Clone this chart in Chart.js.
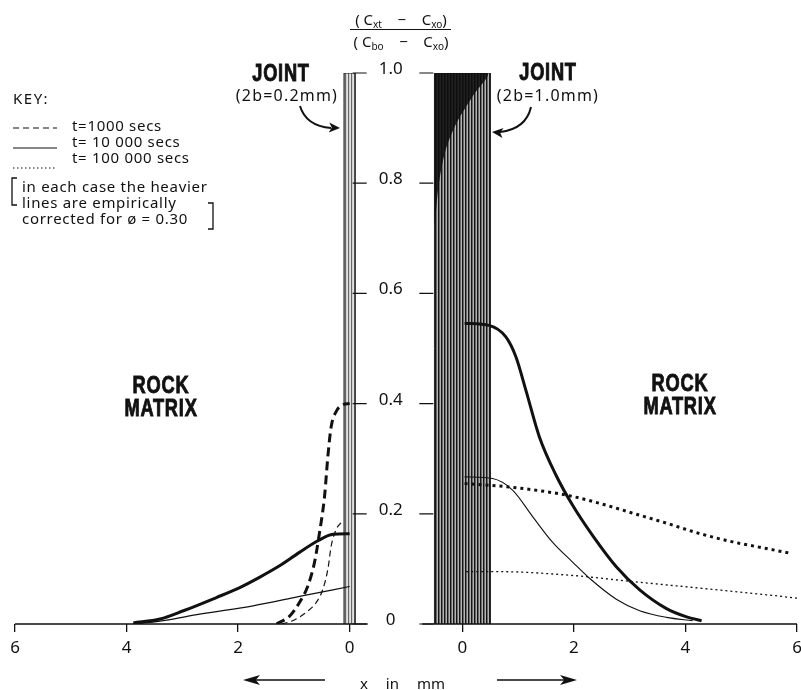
<!DOCTYPE html>
<html>
<head>
<meta charset="utf-8">
<title>Joint and rock matrix concentration profiles</title>
<script src="https://cdn.jsdelivr.net/npm/chart.js@4/dist/chart.umd.min.js"></script>
<style>
  body { margin: 0; background: #fff; }
  #wrap { position: relative; width: 801px; height: 690px; font-family: "Noto Sans", sans-serif; color: #111; }
  canvas { position: absolute; left: 0; top: 0; }
  .c { position: absolute; white-space: nowrap; transform: translate(-50%, -50%); line-height: 1; }
  .l { position: absolute; white-space: nowrap; transform: translateY(-50%); line-height: 1; }
  .key { font-size: 15px; letter-spacing: 0.7px; }
  .big { font-family: "Liberation Sans", sans-serif; font-weight: bold; font-size: 24px; letter-spacing: 1px;
         -webkit-text-stroke: 0.9px #111; transform: translate(-50%, -50%) scaleX(0.76); }
  .sub { font-size: 10px; position: relative; top: 3px; }
</style>
</head>
<body>
<div id="wrap">
  <canvas id="chart" width="801" height="690"></canvas>

  <div class="c" style="left:401px;top:19px;font-size:15px">(&nbsp;C<span class="sub">xt</span>&nbsp;&nbsp;&nbsp;&nbsp;−&nbsp;&nbsp;&nbsp;&nbsp;C<span class="sub">xo</span>)</div>
  <div class="c" style="left:401px;top:41px;font-size:15px">(&nbsp;C<span class="sub">bo</span>&nbsp;&nbsp;&nbsp;&nbsp;−&nbsp;&nbsp;&nbsp;&nbsp;C<span class="sub">xo</span>)</div>

  <div class="l key" style="left:13px;top:98px;letter-spacing:1.5px">KEY:</div>
  <div class="l key" style="left:72px;top:125px">t=1000 secs</div>
  <div class="l key" style="left:72px;top:141px">t= 10 000 secs</div>
  <div class="l key" style="left:72px;top:157px">t= 100 000 secs</div>
  <div class="l key" style="left:22px;top:186px">in each case the heavier</div>
  <div class="l key" style="left:22px;top:202px">lines are empirically</div>
  <div class="l key" style="left:22px;top:218px">corrected for ø = 0.30</div>

  <div class="c big" style="left:281px;top:73px">JOINT</div>
  <div class="c" style="left:287px;top:95px;font-size:16px;letter-spacing:1.2px">(2b=0.2mm)</div>
  <div class="c big" style="left:548px;top:72px">JOINT</div>
  <div class="c" style="left:548px;top:95px;font-size:16px;letter-spacing:1.2px">(2b=1.0mm)</div>

  <div class="c big" style="left:161px;top:385px">ROCK</div>
  <div class="c big" style="left:161px;top:408px">MATRIX</div>
  <div class="c big" style="left:680px;top:383px">ROCK</div>
  <div class="c big" style="left:680px;top:406px">MATRIX</div>

  <div class="l" style="left:360px;top:683px;font-size:15px;word-spacing:14px">x in mm</div>
</div>

<script>
// distance between the two zero marks (joint 0.2mm side and joint 1.0mm side), in axis units
const GAP = 2.02;

// x axis ticks for each half
const leftTicks = [6, 4, 2, 0];
const rightTicks = [0, 2, 4, 6];
const yTicks = [0, 0.2, 0.4, 0.6, 0.8, 1.0];
const yTickLabels = ["0", "0.2", "0.4", "0.6", "0.8", "1.0"];

// left half : joint 2b = 0.2 mm
const leftDashHeavyX = [0, 0.12, 0.24, 0.33, 0.39, 0.45, 0.54, 0.63, 0.75, 0.9, 1.07, 1.31];
const leftDashHeavyY = [0.40, 0.398, 0.386, 0.359, 0.305, 0.232, 0.166, 0.112, 0.069, 0.039, 0.015, 0];
const leftDashThinX = [0.1, 0.17, 0.24, 0.33, 0.39, 0.48, 0.6, 0.78, 1.02, 1.22];
const leftDashThinY = [0.185, 0.182, 0.172, 0.142, 0.10, 0.063, 0.039, 0.021, 0.006, 0];
const leftSolidHeavyX = [0, 0.3, 0.57, 0.9, 1.25, 1.61, 1.97, 2.39, 2.98, 3.4, 3.88];
const leftSolidHeavyY = [0.164, 0.163, 0.151, 0.13, 0.106, 0.085, 0.066, 0.048, 0.024, 0.009, 0.002];
const leftSolidThinX = [0, 0.9, 1.73, 2.69, 3.28, 3.82];
const leftSolidThinY = [0.068, 0.05, 0.033, 0.018, 0.007, 0];

// right half : joint 2b = 1.0 mm
const rightSolidHeavyX = [0.04, 0.48, 0.78, 0.96, 1.14, 1.38, 1.68, 1.98, 2.34, 2.76, 3.18, 3.66, 4.02, 4.29];
const rightSolidHeavyY = [0.546, 0.542, 0.521, 0.485, 0.424, 0.34, 0.27, 0.215, 0.16, 0.104, 0.062, 0.028, 0.013, 0.006];
const rightSolidThinX = [0.04, 0.54, 0.9, 1.26, 1.62, 1.98, 2.28, 2.76, 3.18, 3.66, 4.13];
const rightSolidThinY = [0.267, 0.264, 0.243, 0.195, 0.148, 0.112, 0.083, 0.045, 0.024, 0.012, 0.006];
const rightDotHeavyX = [0.04, 0.9, 1.86, 2.46, 3.06, 3.66, 4.26, 4.85, 5.45, 5.9];
const rightDotHeavyY = [0.255, 0.248, 0.234, 0.219, 0.201, 0.183, 0.164, 0.149, 0.137, 0.128];
const rightDotThinX = [0.07, 0.66, 1.86, 3.06, 4.26, 5.45, 6.0];
const rightDotThinY = [0.095, 0.095, 0.089, 0.077, 0.065, 0.053, 0.047];

// the joints themselves (half widths b, in mm) and the dark smear at the top of the wide one
const leftJointB = 0.1;
const rightJointB = 0.5;
const smearX = [-0.5, 0.45, 0.2, -0.1, -0.3, -0.42, -0.48, -0.5];
const smearY = [1.0, 1.0, 0.96, 0.91, 0.86, 0.8, 0.74, 0.72];

const toLeft = (xs, ys) => xs.map((x, i) => ({ x: -x, y: ys[i] })).reverse();
const toRight = (xs, ys) => xs.map((x, i) => ({ x: x + GAP, y: ys[i] }));

function stripes(cols) {
    const c = document.createElement("canvas");
    c.width = cols.length;
    c.height = 1;
    const g = c.getContext("2d");
    cols.forEach((col, i) => {
        g.fillStyle = col;
        g.fillRect(i, 0, 1, 1);
    });
    return g.createPattern(c, "repeat");
}

function curve(data, width, dash) {
    return {
        data: data,
        borderColor: "#111",
        borderWidth: width,
        borderDash: dash,
        borderCapStyle: "butt",
        pointRadius: 0,
        fill: false,
        cubicInterpolationMode: "monotone",
        order: 0
    };
}

function joint(x0, x1, pattern, border, bw) {
    return {
        data: [{ x: x0, y: 0 }, { x: x0, y: 1 }, { x: x1, y: 1 }, { x: x1, y: 0 }],
        backgroundColor: pattern,
        borderColor: border,
        borderWidth: bw,
        pointRadius: 0,
        tension: 0,
        fill: "shape",
        order: 10
    };
}

const xTickPos = leftTicks.map(v => -v).concat(rightTicks.map(v => v + GAP));
const xTickLabels = leftTicks.concat(rightTicks).map(String);

const datasets = [
    curve(toLeft(leftDashHeavyX, leftDashHeavyY), 3, [9, 5]),
    curve(toLeft(leftDashThinX, leftDashThinY), 1.2, [6, 4]),
    curve(toLeft(leftSolidHeavyX, leftSolidHeavyY), 3, []),
    curve(toLeft(leftSolidThinX, leftSolidThinY), 1.2, []),
    curve(toRight(rightSolidHeavyX, rightSolidHeavyY), 3, []),
    curve(toRight(rightSolidThinX, rightSolidThinY), 1.1, []),
    curve(toRight(rightDotHeavyX, rightDotHeavyY), 3, [3, 4]),
    curve(toRight(rightDotThinX, rightDotThinY), 1.3, [2, 3]),
    {
        data: toRight(smearX, smearY),
        backgroundColor: "rgba(12,12,12,0.88)",
        borderWidth: 0,
        pointRadius: 0,
        tension: 0.3,
        fill: "shape",
        order: 5
    },
    joint(-leftJointB, leftJointB, stripes(["#666", "#d0d0d0", "#e2e2e2"]), "#222", 1.2),
    joint(GAP - rightJointB, GAP + rightJointB, stripes(["#151515", "#6a6a6a", "#b4b4b4"]), "#222", 1)
];

function arrowHead(ctx, x, y, ang, len, half) {
    ctx.save();
    ctx.translate(x, y);
    ctx.rotate(ang);
    ctx.beginPath();
    ctx.moveTo(0, 0);
    ctx.lineTo(-len, -half);
    ctx.lineTo(-len * 0.75, 0);
    ctx.lineTo(-len, half);
    ctx.closePath();
    ctx.fill();
    ctx.restore();
}

// tick marks / labels of the middle y axis, base lines, key samples, arrows
const decor = {
    id: "decor",
    afterDraw(chart) {
        const ctx = chart.ctx;
        const xs = chart.scales.x;
        const ys = chart.scales.y;
        const zl = xs.getPixelForValue(0);
        const zr = xs.getPixelForValue(GAP);
        ctx.save();
        ctx.strokeStyle = "#111";
        ctx.fillStyle = "#111";

        // base lines of the two halves
        const y0 = ys.getPixelForValue(0);
        ctx.lineWidth = 1.5;
        ctx.beginPath();
        ctx.moveTo(xs.getPixelForValue(-6), y0);
        ctx.lineTo(zl + 18, y0);
        ctx.moveTo(zr - 40, y0);
        ctx.lineTo(xs.getPixelForValue(GAP + 6), y0);
        ctx.stroke();

        // y ticks and labels
        ctx.lineWidth = 1.2;
        ctx.font = "17px 'Noto Sans'";
        ctx.textAlign = "center";
        ctx.textBaseline = "alphabetic";
        yTicks.forEach((v, i) => {
            const py = ys.getPixelForValue(v);
            ctx.beginPath();
            ctx.moveTo(zl + 3, py);
            ctx.lineTo(zl + 17, py);
            ctx.moveTo(zr - 43, py);
            ctx.lineTo(zr - 29, py);
            ctx.stroke();
            ctx.fillText(yTickLabels[i], zl + 41, py + 1);
        });

        // fraction bar of the y title
        ctx.lineWidth = 1;
        ctx.beginPath();
        ctx.moveTo(350, 29.5);
        ctx.lineTo(451, 29.5);
        ctx.stroke();

        // key samples
        ctx.lineWidth = 1.2;
        [[6, 4], [], [1.5, 2.5]].forEach((d, i) => {
            ctx.setLineDash(d);
            ctx.beginPath();
            ctx.moveTo(13, 128 + i * 20);
            ctx.lineTo(57, 128 + i * 20);
            ctx.stroke();
        });
        ctx.setLineDash([]);

        // brackets round the note
        ctx.lineWidth = 1.3;
        ctx.beginPath();
        ctx.moveTo(17, 178);
        ctx.lineTo(12, 178);
        ctx.lineTo(12, 205);
        ctx.lineTo(17, 205);
        ctx.moveTo(208, 203);
        ctx.lineTo(213, 203);
        ctx.lineTo(213, 229);
        ctx.lineTo(208, 229);
        ctx.stroke();

        // curved arrows to the joints
        ctx.lineWidth = 2;
        ctx.beginPath();
        ctx.moveTo(300, 106);
        ctx.quadraticCurveTo(306, 126, 331, 128);
        ctx.stroke();
        arrowHead(ctx, 340, 128, 0.05, 11, 5);
        ctx.beginPath();
        ctx.moveTo(531, 107);
        ctx.quadraticCurveTo(526, 129, 500, 132);
        ctx.stroke();
        arrowHead(ctx, 492, 132, Math.PI + 0.1, 11, 5);

        // x direction arrows
        ctx.lineWidth = 1.5;
        ctx.beginPath();
        ctx.moveTo(325, 680);
        ctx.lineTo(255, 680);
        ctx.moveTo(497, 680);
        ctx.lineTo(565, 680);
        ctx.stroke();
        arrowHead(ctx, 243, 680, Math.PI, 17, 5);
        arrowHead(ctx, 577, 680, 0, 17, 5);
        ctx.restore();
    }
};

new Chart(document.getElementById("chart").getContext("2d"), {
    type: "line",
    data: { datasets: datasets },
    plugins: [decor],
    options: {
        responsive: false,
        animation: false,
        events: [],
        layout: { padding: { left: 15, right: 4, top: 73, bottom: 0 } },
        plugins: {
            legend: { display: false },
            tooltip: { enabled: false }
        },
        scales: {
            x: {
                type: "linear",
                min: -6,
                max: GAP + 6,
                afterBuildTicks(scale) {
                    scale.ticks = xTickPos.map(v => ({ value: v }));
                },
                afterFit(scale) {
                    scale.height = 66;
                    scale.paddingLeft = 0;
                    scale.paddingRight = 0;
                },
                border: { display: false },
                grid: { drawOnChartArea: false, drawTicks: true, tickLength: 8, color: "#111", lineWidth: 1.3 },
                ticks: {
                    autoSkip: false,
                    maxRotation: 0,
                    padding: 6,
                    color: "#111",
                    font: { family: "Noto Sans", size: 17 },
                    callback: (v, i) => xTickLabels[i]
                }
            },
            y: {
                type: "linear",
                min: 0,
                max: 1,
                display: false
            }
        }
    }
});
</script>
</body>
</html>
